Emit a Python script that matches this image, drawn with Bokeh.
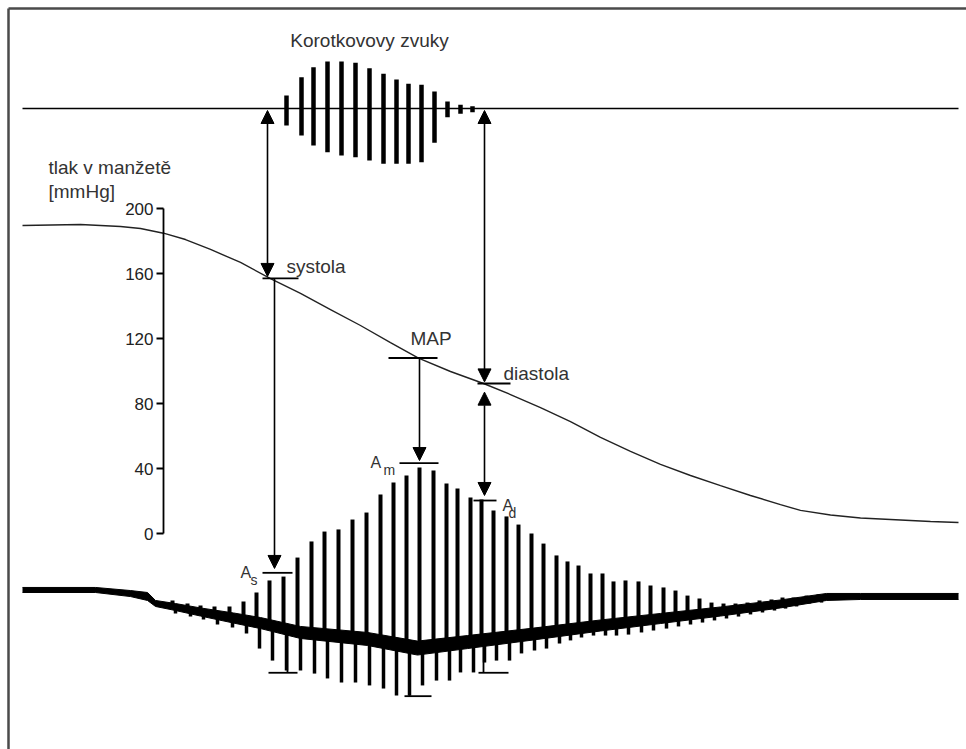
import numpy as np
from bokeh.plotting import figure
from bokeh.models import Range1d, Arrow, NormalHead, ColumnDataSource
from bokeh.core.properties import value
from bokeh.embed import file_html
from bokeh.resources import INLINE

# ---------------- data (x: time-like units, y: mmHg-scale units) ----------------
# cuff pressure curve
press_x = [22, 80, 120, 140, 163, 185, 210, 240, 270, 300, 330, 360, 390, 418, 450, 483,
           510, 540, 570, 600, 630, 660, 690, 720, 750, 780, 800, 830, 860, 900, 930, 958]
press_mmhg = [189.5, 190.2, 188.9, 187.7, 184.8, 180.9, 174.8, 166.8, 156.9, 147.7, 137.8,
              128.0, 117.5, 107.9, 99.7, 92.3, 85.5, 77.5, 68.9, 59.1, 50.5, 42.5, 35.7,
              29.5, 23.4, 17.8, 14.2, 11.4, 9.5, 8.3, 7.4, 6.8]

axis_ticks = [0, 40, 80, 120, 160, 200]
axis_labels = ["0", "40", "80", "120", "160", "200"]

# Korotkoff sounds
kor_base = 261.5
kor_x = [286, 301, 313, 327, 341, 355, 369, 383, 396, 408, 421, 434, 447, 460, 472]
kor_top = [269.5, 280.8, 287.0, 290.5, 290.5, 289.7, 286.3, 282.9, 279.4, 276.7, 276.1,
           272.0, 265.8, 263.8, 262.9]
kor_bottom = [251.1, 244.9, 238.8, 234.6, 232.6, 231.6, 229.5, 227.5, 227.5, 227.5, 228.5,
              240.4, 256.2, 258.3, 259.3]

# oscillometric trace: baseline band
band_x = [22, 95, 130, 147, 155, 175, 200, 233, 260, 300, 367, 417, 467, 533, 600,
          660, 720, 780, 826, 860, 958]
band_upper = [-33.2, -33.2, -35.1, -36.3, -41.2, -43.1, -45.8, -48.9, -51.7, -57.2, -60.9,
              -66.2, -62.8, -58.2, -53.2, -49.2, -45.2, -40.9, -36.9, -36.9, -36.9]
band_lower = [-36.3, -36.3, -38.8, -41.2, -44.9, -47.4, -50.8, -55.1, -58.5, -64.6, -68.9,
              -74.8, -70.8, -65.5, -60.0, -55.4, -50.8, -45.8, -41.2, -40.6, -40.6]

# oscillometric pulses
pulse_x = [172, 187, 200, 214, 229, 243, 256, 269, 283, 297, 311, 324, 338, 352, 366, 380,
           393, 406, 419, 433, 446, 457, 470, 481, 493, 506, 518, 531, 543, 556, 567, 578,
           590, 602, 613, 625, 638, 650, 663, 675, 687, 699, 711, 723, 735, 747, 759, 771,
           782, 793, 806, 818]
pulse_top = [-41.2, -43.1, -44.3, -44.9, -44.9, -41.8, -36.3, -28.9, -26.5, -14.8, -4.9, 1.2,
             2.5, 8.6, 12.9, 24.0, 31.4, 35.7, 40.6, 38.8, 30.8, 27.7, 22.2, 20.9, 14.2, 10.5,
             5.5, 0.0, -6.2, -13.5, -17.2, -19.7, -24.6, -24.6, -29.5, -28.9, -29.5, -32.0,
             -33.2, -35.1, -38.2, -40.0, -42.5, -43.1, -43.1, -42.5, -41.2, -40.6, -39.4,
             -39.4, -38.2, -37.5]
pulse_bottom = [-49.2, -51.1, -52.9, -56.0, -57.8, -61.5, -70.8, -78.2, -84.3, -84.3, -86.2,
                -89.2, -91.7, -91.7, -93.5, -95.4, -99.7, -99.7, -93.5, -90.5, -90.5, -85.5,
                -85.5, -79.4, -78.2, -78.2, -73.8, -72.0, -70.8, -67.7, -65.8, -64.0, -62.8,
                -62.8, -62.8, -62.2, -60.9, -59.7, -58.5, -57.2, -56.0, -54.8, -53.5, -52.3,
                -51.1, -49.8, -48.6, -47.4, -46.2, -44.9, -43.1, -42.5]

# characteristic levels
sys_level, map_level, dia_level = 157.0, 108.0, 92.3
as_level, am_level, ad_level = -24.2, 43.3, 20.3
trough_levels = [-85.7, -100.1, -85.7]

# ---------------- figure ----------------
p = figure(width=966, height=749, x_range=Range1d(0, 966), y_range=Range1d(-132.92, 328.0),
           output_backend="svg", toolbar_location=None, x_axis_type=None, y_axis_type=None,
           min_border=0)
p.grid.visible = False
p.outline_line_color = None
p.background_fill_color = "white"
p.border_fill_color = "white"

FONT = value("Liberation Sans")
TXT = "#333333"

# frame (top and left edges)
p.segment([8, 8], [323.1, 323.1], [966, 8], [323.1, -133], line_color="#4a4a4a", line_width=2.5)

# Korotkoff baseline + sounds
p.segment([22], [kor_base], [958], [kor_base], line_color="black", line_width=1.6)
p.segment(kor_x, kor_bottom, kor_x, kor_top, line_color="black", line_width=4.5)

# pressure curve
p.line(press_x, press_mmhg, line_color="#222222", line_width=1.4)

# pressure axis
p.segment([163], [axis_ticks[0]], [163], [axis_ticks[-1]], line_color="black", line_width=1.8)
p.segment([156] * len(axis_ticks), axis_ticks, [163] * len(axis_ticks), axis_ticks,
          line_color="black", line_width=1.8)
p.text(x=[153] * len(axis_ticks), y=axis_ticks, text=axis_labels, text_font=FONT,
       text_font_size=value("17px"), text_align="right", text_baseline="middle", text_color="#222222")

# oscillometric trace
p.varea(x=band_x, y1=band_lower, y2=band_upper, fill_color="black")
p.line(band_x, band_upper, line_color="black", line_width=1)
p.line(band_x, band_lower, line_color="black", line_width=1)
px = np.array(pulse_x, dtype=float)
center = np.interp(px, band_x, (np.array(band_upper) + np.array(band_lower)) / 2)
p.segment(px, center, px, pulse_top, line_color="black", line_width=4)
p.segment(px + 3, center, px + 3, pulse_bottom, line_color="black", line_width=3.5)

# level ticks
tick_x0 = [262, 388, 477, 262, 399, 473, 268, 404, 478]
tick_x1 = [298, 437, 510, 292, 438, 496, 297, 431, 508]
tick_y = [sys_level, map_level, dia_level, as_level, am_level, ad_level] + trough_levels
p.segment(tick_x0, tick_y, tick_x1, tick_y, line_color="black", line_width=1.8)
# trough verticals
trough_x = [287, 409, 483]
trough_top = np.interp(trough_x, band_x, band_lower)
p.segment(trough_x, trough_top, trough_x, trough_levels, line_color="black", line_width=1.8)

# arrows
both = ColumnDataSource(dict(x0=[267, 484, 484], y0=[260.3, 260.3, 87.0],
                             x1=[267, 484, 484], y1=[158.2, 93.3, 23.4]))
single = ColumnDataSource(dict(x0=[274, 419], y0=[sys_level, map_level],
                               x1=[274, 419], y1=[-21.5, 44.9]))
head = dict(size=13, fill_color="black", line_color="black", line_width=1)
p.add_layout(Arrow(start=NormalHead(**head), end=NormalHead(**head),
                   x_start="x0", y_start="y0", x_end="x1", y_end="y1", source=both,
                   line_color="black", line_width=1.6))
p.add_layout(Arrow(end=NormalHead(**head),
                   x_start="x0", y_start="y0", x_end="x1", y_end="y1", source=single,
                   line_color="black", line_width=1.6))

# labels
big = dict(text_font=FONT, text_font_size=value("19px"), text_color=TXT)
p.text(x=[369], y=[303.4], text=["Korotkovovy zvuky"], text_align="center",
       text_baseline="middle", **big)
p.text(x=[48], y=[225.4], text=["tlak v manžetě"], text_align="left", text_baseline="alphabetic", **big)
p.text(x=[48], y=[210.6], text=["[mmHg]"], text_align="left", text_baseline="alphabetic", **big)
p.text(x=[286], y=[164.3], text=["systola"], text_align="left", text_baseline="alphabetic", **big)
p.text(x=[410], y=[119.8], text=["MAP"], text_align="left", text_baseline="alphabetic", **big)
p.text(x=[503], y=[98.3], text=["diastola"], text_align="left", text_baseline="alphabetic", **big)

p.text(x=[240, 370, 502], y=[-24.0, 43.9, 17.2], text=["A", "A", "A"], text_font=FONT,
       text_font_size=value("16px"), text_color=TXT, text_align="left", text_baseline="alphabetic")
p.text(x=[250, 383, 508], y=[-28.9, 38.8, 12.9], text=["s", "m", "d"], text_font=FONT,
       text_font_size=value("14px"), text_color=TXT, text_align="left", text_baseline="alphabetic")

open("out.html", "w").write(file_html(p, INLINE))
